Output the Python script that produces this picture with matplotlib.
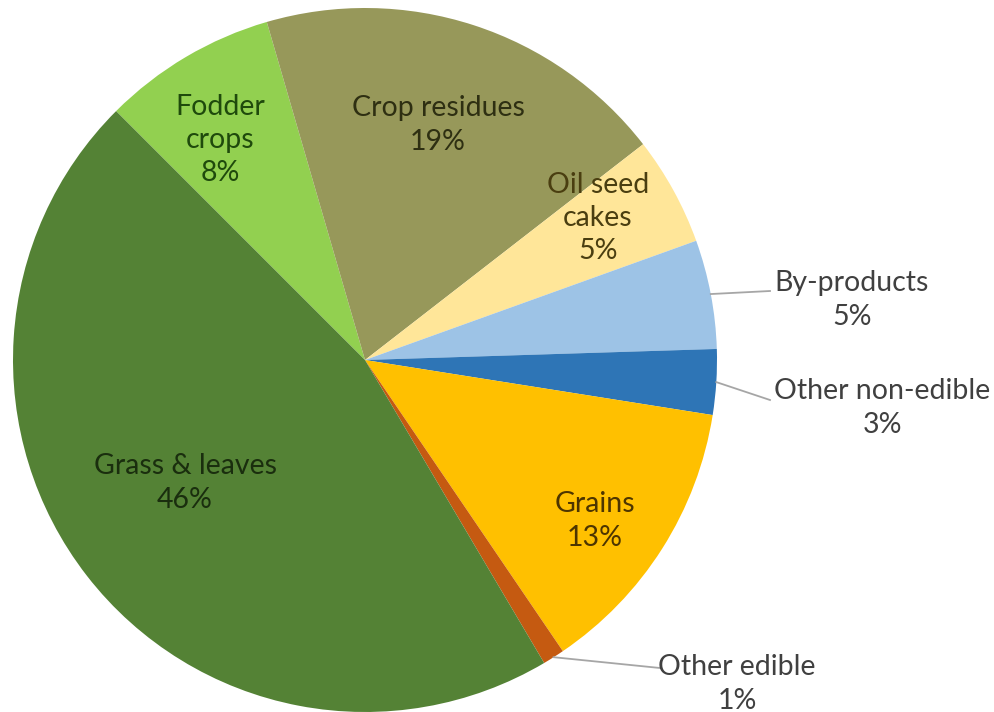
import matplotlib.pyplot as plt
import numpy as np

labels = ['Fodder\ncrops', 'Crop residues', 'Oil seed\ncakes', 'By-products',
          'Other non-edible', 'Grains', 'Other edible', 'Grass & leaves']
shares = [8, 19, 5, 5, 3, 13, 1, 46]
colors = ['#92D050', '#97985A', '#FFE699', '#9DC3E6',
          '#2E75B6', '#FFC000', '#C55A11', '#548235']
text_colors = ['#1F4A0C', '#2E2F12', '#4A3E10', '#404040',
               '#404040', '#4D3500', '#404040', '#1A2E0E']

plt.rcParams['font.family'] = ['Lato', 'DejaVu Sans']

fig = plt.figure(figsize=(9.95, 7.12), dpi=100)
ax = fig.add_axes([0, 0, 1, 1])

cx, cy, r = 365, 712 - 360, 352
wedges, _ = ax.pie(shares, colors=colors, startangle=135, counterclock=False,
                   center=(cx, cy), radius=r, frame=True)
ax.set_xlim(0, 995)
ax.set_ylim(0, 712)
ax.set_aspect('equal')
ax.axis('off')

# label placement in pixels from top-left, and whether it has a leader line
label_pos = {
    0: (220, 140, False),
    1: (438, 125, False),
    2: (598, 218, False),
    3: (852, 300, True),
    4: (882, 408, True),
    5: (595, 521, False),
    6: (737, 684, True),
    7: (185, 483, False),
}
line_end = {3: (770, 291), 4: (770, 400), 6: (660, 668)}

for i, w in enumerate(wedges):
    x, y, leader = label_pos[i]
    ax.text(x, 712 - y, f'{labels[i]}\n{shares[i]}%', ha='center', va='center',
            fontsize=20.5, color=text_colors[i], linespacing=1.35)
    if leader:
        mid = np.deg2rad((w.theta1 + w.theta2) / 2)
        sx, sy = cx + r * np.cos(mid), cy + r * np.sin(mid)
        ex, ey = line_end[i]
        ax.plot([sx, ex], [sy, 712 - ey], color='#A6A6A6', lw=1.3)

fig.savefig('out.png', dpi=100)
